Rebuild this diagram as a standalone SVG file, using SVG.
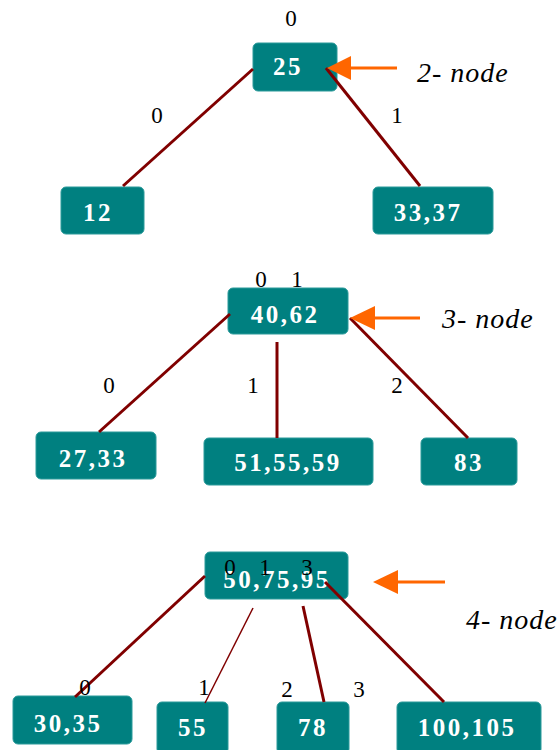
<svg xmlns="http://www.w3.org/2000/svg" width="560" height="750" viewBox="0 0 560 750">
<style>
.box{fill:#008080;stroke:#2a9a9a;stroke-width:1}
.nt{font-family:"Liberation Serif",serif;font-weight:bold;font-size:25px;fill:#fff;text-anchor:middle;letter-spacing:2.5px}
.edge{stroke:#800000;stroke-width:3;fill:none}
.thin{stroke:#800000;stroke-width:1.5;fill:none}
.lbl{font-family:"Liberation Serif",serif;font-size:23px;fill:#000;text-anchor:middle}
.ann{font-family:"Liberation Serif",serif;font-style:italic;font-size:28px;fill:#000;letter-spacing:1px}
.arr{stroke:#FF6600;stroke-width:3}
.head{fill:#FF6600}
</style>
<rect width="560" height="750" fill="#fff"/>
<g id="n25"><rect class="box" x="253" y="43" width="84" height="48" rx="5"/><text class="nt" x="288" y="75">25</text></g>
<g id="n12"><rect class="box" x="61" y="187" width="83" height="47" rx="5"/><text class="nt" x="98" y="221">12</text></g>
<g id="n33_37"><rect class="box" x="373" y="187" width="120" height="47" rx="5"/><text class="nt" x="428" y="221">33,37</text></g>
<g id="n40_62"><rect class="box" x="228" y="288" width="120" height="46" rx="5"/><text class="nt" x="285" y="323">40,62</text></g>
<g id="n27_33"><rect class="box" x="36" y="432" width="120" height="47" rx="5"/><text class="nt" x="93" y="467">27,33</text></g>
<g id="n51_55_59"><rect class="box" x="204" y="438" width="169" height="47" rx="5"/><text class="nt" x="288" y="471">51,55,59</text></g>
<g id="n83"><rect class="box" x="421" y="438" width="96" height="47" rx="5"/><text class="nt" x="469" y="471">83</text></g>
<g id="n50_75_95"><rect class="box" x="205" y="552" width="143" height="47" rx="5"/><text class="nt" x="277" y="588">50,75,95</text></g>
<g id="n30_35"><rect class="box" x="13" y="696" width="119" height="48" rx="5"/><text class="nt" x="68" y="732">30,35</text></g>
<g id="n55"><rect class="box" x="157" y="702" width="71" height="52" rx="5"/><text class="nt" x="193" y="736">55</text></g>
<g id="n78"><rect class="box" x="277" y="702" width="72" height="52" rx="5"/><text class="nt" x="313" y="736">78</text></g>
<g id="n100_105"><rect class="box" x="397" y="702" width="144" height="52" rx="5"/><text class="nt" x="467" y="736">100,105</text></g>
<g id="connectors">
<line class="edge" x1="253" y1="69" x2="123" y2="186"/>
<line class="edge" x1="326" y1="68" x2="420" y2="186"/>
<line class="edge" x1="230" y1="314" x2="99" y2="432"/>
<line class="edge" x1="277" y1="342" x2="277" y2="438"/>
<line class="edge" x1="350" y1="318" x2="468" y2="438"/>
<line class="edge" x1="205" y1="576" x2="75" y2="697"/>
<line class="thin" x1="253" y1="608" x2="205" y2="703"/>
<line class="edge" x1="303" y1="606" x2="324" y2="702"/>
<line class="edge" x1="325" y1="582" x2="444" y2="702"/>
</g>
<g id="labels">
<text class="lbl" x="291" y="26">0</text>
<text class="lbl" x="157" y="123">0</text>
<text class="lbl" x="397" y="123">1</text>
<text class="lbl" x="261" y="287">0</text>
<text class="lbl" x="297" y="287">1</text>
<text class="lbl" x="109" y="393">0</text>
<text class="lbl" x="253" y="393">1</text>
<text class="lbl" x="397" y="393">2</text>
<text class="lbl" x="230" y="575">0</text>
<text class="lbl" x="265" y="575">1</text>
<text class="lbl" x="307" y="575">3</text>
<text class="lbl" x="85" y="695">0</text>
<text class="lbl" x="204" y="695">1</text>
<text class="lbl" x="287" y="697">2</text>
<text class="lbl" x="359" y="697">3</text>
</g>
<g id="annotations">
<line class="arr" x1="348" y1="68" x2="397" y2="68"/>
<polygon class="head" points="327,68 351,56 351,80"/>
<text class="ann" x="417" y="82">2- node</text>
<line class="arr" x1="372" y1="318" x2="420" y2="318"/>
<polygon class="head" points="350,318 375,306 375,330"/>
<text class="ann" x="442" y="328">3- node</text>
<line class="arr" x1="395" y1="582" x2="445" y2="582"/>
<polygon class="head" points="373,582 398,570 398,594"/>
<text class="ann" x="466" y="629">4- node</text>
</g>
</svg>
